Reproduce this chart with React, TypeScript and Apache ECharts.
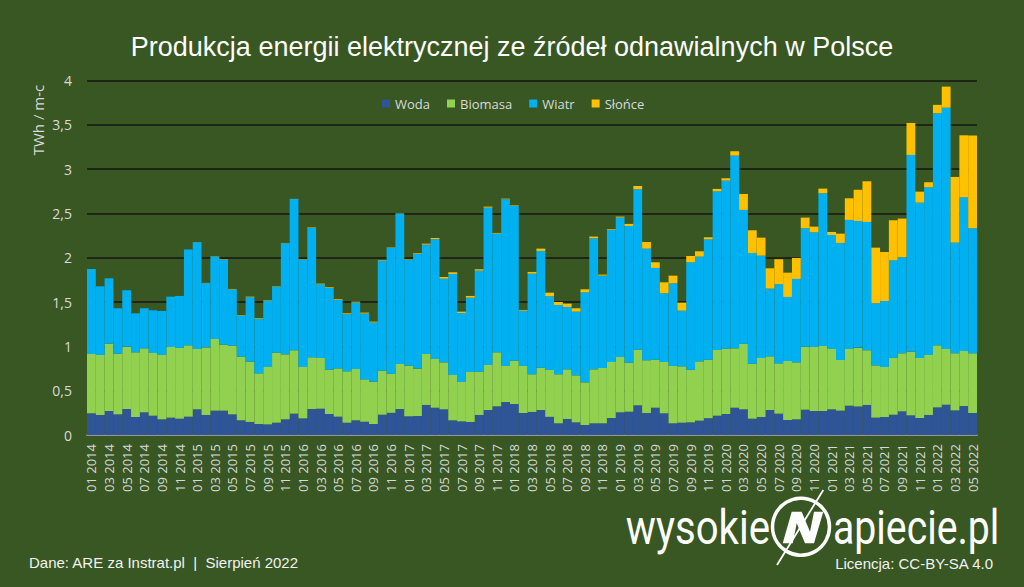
import React, { useEffect, useRef } from "react";
import * as echarts from "echarts";

const months = ["01", "02", "03", "04", "05", "06", "07", "08", "09", "10", "11", "12"];
const years = [2014, 2015, 2016, 2017, 2018, 2019, 2020, 2021, 2022];
const lastMonthCount = 5; // 2022: 01..05
const categories: string[] = [];
years.forEach((y, yi) => {
  const n = yi === years.length - 1 ? lastMonthCount : 12;
  for (let m = 0; m < n; m++) categories.push(`${months[m]} ${y}`);
});

const seriesNames = ["Woda", "Biomasa", "Wiatr", "Słońce"];
const yTickLabels = ["0", "0,5", "1", "1,5", "2", "2,5", "3", "3,5", "4"];

const woda = [
  0.245, 0.226, 0.271, 0.233, 0.293, 0.203, 0.256, 0.218, 0.177, 0.196, 0.184, 0.207,
  0.29, 0.226, 0.275, 0.275, 0.233, 0.166, 0.147, 0.124, 0.12, 0.139, 0.177, 0.241,
  0.188, 0.293, 0.297, 0.237, 0.207, 0.139, 0.166, 0.15, 0.124, 0.229, 0.25, 0.293,
  0.211, 0.214, 0.339, 0.308, 0.29, 0.166, 0.154, 0.147, 0.226, 0.282, 0.324, 0.372,
  0.35, 0.248, 0.26, 0.282, 0.205, 0.132, 0.181, 0.143, 0.113, 0.132, 0.132, 0.192,
  0.256, 0.263, 0.335, 0.248, 0.308, 0.245, 0.132, 0.139, 0.143, 0.162, 0.19, 0.218,
  0.237, 0.308, 0.29, 0.184, 0.203, 0.282, 0.241, 0.169, 0.177, 0.286, 0.271, 0.271,
  0.29, 0.275, 0.331, 0.322, 0.339, 0.196, 0.203, 0.229, 0.267, 0.222, 0.192, 0.226,
  0.312, 0.342, 0.278, 0.327, 0.248,
];

const biomasa = [
  0.669, 0.677, 0.76, 0.685, 0.704, 0.73, 0.722, 0.707, 0.726, 0.797, 0.798, 0.805,
  0.681, 0.763, 0.808, 0.745, 0.775, 0.718, 0.681, 0.572, 0.647, 0.79, 0.733, 0.715,
  0.579, 0.584, 0.572, 0.5, 0.545, 0.58, 0.579, 0.478, 0.478, 0.497, 0.442, 0.508,
  0.572, 0.535, 0.575, 0.55, 0.53, 0.511, 0.444, 0.564, 0.489, 0.508, 0.609, 0.407,
  0.489, 0.531, 0.425, 0.478, 0.529, 0.553, 0.56, 0.53, 0.481, 0.609, 0.624, 0.632,
  0.624, 0.553, 0.628, 0.595, 0.542, 0.579, 0.647, 0.636, 0.594, 0.669, 0.66, 0.741,
  0.737, 0.67, 0.741, 0.621, 0.666, 0.606, 0.568, 0.666, 0.643, 0.711, 0.722, 0.734,
  0.681, 0.571, 0.64, 0.664, 0.617, 0.59, 0.564, 0.644, 0.655, 0.719, 0.677, 0.677,
  0.7, 0.629, 0.644, 0.621, 0.674,
];

const wiatr = [
  0.96, 0.775, 0.737, 0.512, 0.636, 0.44, 0.452, 0.482, 0.497, 0.568, 0.587, 1.08,
  1.205, 0.725, 0.931, 0.959, 0.635, 0.465, 0.727, 0.618, 0.748, 0.745, 1.254, 1.706,
  1.212, 1.462, 0.832, 0.922, 0.775, 0.644, 0.75, 0.743, 0.668, 1.243, 1.422, 1.698,
  1.195, 1.293, 1.234, 1.352, 0.944, 1.14, 0.779, 0.839, 1.14, 1.776, 1.34, 1.882,
  1.747, 0.624, 1.136, 1.317, 0.831, 0.782, 0.704, 0.719, 1.016, 1.479, 1.042, 1.489,
  1.574, 1.543, 1.81, 1.26, 1.035, 0.775, 0.933, 0.628, 1.212, 1.182, 1.358, 1.791,
  1.897, 2.175, 1.509, 1.249, 1.155, 0.764, 0.892, 0.723, 0.941, 1.336, 1.294, 1.723,
  1.286, 1.321, 1.456, 1.429, 1.448, 0.7, 0.745, 1.098, 1.083, 2.219, 1.753, 1.892,
  2.619, 2.723, 1.249, 1.734, 1.411,
];

const slonce = [
  0, 0, 0, 0, 0, 0, 0, 0, 0, 0, 0, 0,
  0.002, 0.002, 0.003, 0.004, 0.005, 0.005, 0.006, 0.006, 0.005, 0.004, 0.003, 0.002,
  0.004, 0.005, 0.007, 0.008, 0.008, 0.01, 0.01, 0.01, 0.009, 0.006, 0.004, 0.003,
  0.005, 0.008, 0.011, 0.013, 0.019, 0.019, 0.015, 0.019, 0.015, 0.011, 0.007, 0.006,
  0.006, 0.008, 0.019, 0.026, 0.041, 0.034, 0.037, 0.038, 0.034, 0.019, 0.012, 0.008,
  0.01, 0.023, 0.037, 0.075, 0.064, 0.124, 0.086, 0.091, 0.071, 0.06, 0.023, 0.027,
  0.026, 0.049, 0.18, 0.256, 0.203, 0.229, 0.282, 0.274, 0.237, 0.12, 0.064, 0.052,
  0.034, 0.105, 0.244, 0.352, 0.459, 0.628, 0.553, 0.452, 0.437, 0.361, 0.124, 0.057,
  0.094, 0.237, 0.741, 0.7, 1.045,
];

const seriesData = [woda, biomasa, wiatr, slonce];
const seriesColors = ["#2f5597", "#92d050", "#00b0f0", "#ffc000"];

export default function App() {
  const ref = useRef<HTMLDivElement>(null);
  useEffect(() => {
    if (!ref.current) return;
    const chart = echarts.init(ref.current, undefined, { renderer: "svg" });
    const labelColor = "#d9d9d9";
    const option: any = {
      animation: false,
      backgroundColor: "#385723",
      textStyle: { fontFamily: "Open Sans" },
      grid: { left: 87, right: 47, top: 80.5, bottom: 152, containLabel: false },
      legend: {
        data: seriesNames,
        left: 382,
        top: 97,
        padding: 0,
        itemWidth: 8,
        itemHeight: 8,
        itemGap: 17,
        icon: "rect",
        textStyle: { color: labelColor, fontSize: 13, fontFamily: "Open Sans" },
      },
      xAxis: {
        type: "category",
        data: categories,
        boundaryGap: true,
        axisLine: { lineStyle: { color: "#bfbfbf", width: 1.5 } },
        axisTick: { interval: 1, length: 5, lineStyle: { color: "#bfbfbf" } },
        axisLabel: {
          interval: 1,
          rotate: 90,
          color: labelColor,
          fontSize: 13,
          margin: 9,
          fontFamily: "Open Sans",
        },
      },
      yAxis: {
        type: "value",
        min: 0,
        max: 4,
        interval: 0.5,
        axisLine: { show: false },
        axisTick: { show: false },
        axisLabel: {
          color: labelColor,
          fontSize: 14,
          margin: 15,
          fontFamily: "Open Sans",
          formatter: (v: number) => yTickLabels[Math.round(v / 0.5)] ?? String(v),
        },
        splitLine: { lineStyle: { color: "#151515", width: 1.5 } },
      },
      series: seriesNames.map((name, i) => ({
        name,
        type: "bar",
        stack: "total",
        barCategoryGap: "0%",
        data: seriesData[i],
        itemStyle: { color: seriesColors[i] },
      })),
      graphic: [
        {
          type: "text",
          x: 512,
          y: 47,
          style: {
            text: "Produkcja energii elektrycznej ze źródeł odnawialnych w Polsce",
            fill: "#ffffff",
            fontSize: 27,
            fontFamily: "Liberation Sans",
            textAlign: "center",
            textVerticalAlign: "middle",
            align: "center",
            verticalAlign: "middle",
          },
        },
        {
          type: "text",
          x: 38,
          y: 120,
          rotation: Math.PI / 2,
          style: {
            text: "TWh / m-c",
            fill: labelColor,
            fontSize: 15,
            fontFamily: "Open Sans",
            textAlign: "center",
            textVerticalAlign: "middle",
            align: "center",
            verticalAlign: "middle",
          },
        },
        {
          type: "text",
          x: 29,
          y: 562,
          style: {
            text: "Dane: ARE za Instrat.pl  |  Sierpień 2022",
            fill: "#f2f2f2",
            fontSize: 15,
            fontFamily: "Liberation Sans",
            textAlign: "left",
            textVerticalAlign: "middle",
            align: "left",
            verticalAlign: "middle",
          },
        },
        {
          type: "text",
          x: 993,
          y: 563,
          style: {
            text: "Licencja: CC-BY-SA 4.0",
            fill: "#f2f2f2",
            fontSize: 15,
            fontFamily: "Liberation Sans",
            textAlign: "right",
            textVerticalAlign: "middle",
            align: "right",
            verticalAlign: "middle",
          },
        },
        {
          type: "text",
          x: 770,
          y: 527,
          scaleX: 0.82,
          style: {
            text: "wysokie",
            fill: "#ffffff",
            fontSize: 49,
            fontWeight: 400,
            fontFamily: "Roboto",
            textAlign: "right",
            textVerticalAlign: "middle",
            align: "right",
            verticalAlign: "middle",
          },
        },
        {
          type: "text",
          x: 833,
          y: 527,
          scaleX: 0.8,
          style: {
            text: "apiecie.pl",
            fill: "#ffffff",
            fontSize: 49,
            fontWeight: 400,
            fontFamily: "Roboto",
            textAlign: "left",
            textVerticalAlign: "middle",
            align: "left",
            verticalAlign: "middle",
          },
        },
        {
          type: "circle",
          shape: { cx: 801, cy: 526.7, r: 28.5 },
          style: { fill: "none", stroke: "#ffffff", lineWidth: 3.5 },
        },
        {
          type: "polygon",
          shape: {
            points: [
              [791.7, 511.7],
              [801.7, 511.7],
              [810, 531.7],
              [814, 511.7],
              [823.3, 511.7],
              [814, 543.3],
              [805, 543.3],
              [796.7, 523.3],
              [792.7, 543.3],
              [782.7, 543.3],
            ],
          },
          style: { fill: "#ffffff" },
        },
        {
          type: "line",
          shape: { x1: 823.3, y1: 490, x2: 777, y2: 565 },
          style: { stroke: "#ffffff", lineWidth: 1.8 },
        },
      ],
    };
    chart.setOption(option);
    return () => chart.dispose();
  }, []);
  return (
    <div
      ref={ref}
      style={{ position: "fixed", left: 0, top: 0, width: 1024, height: 587 }}
    />
  );
}
